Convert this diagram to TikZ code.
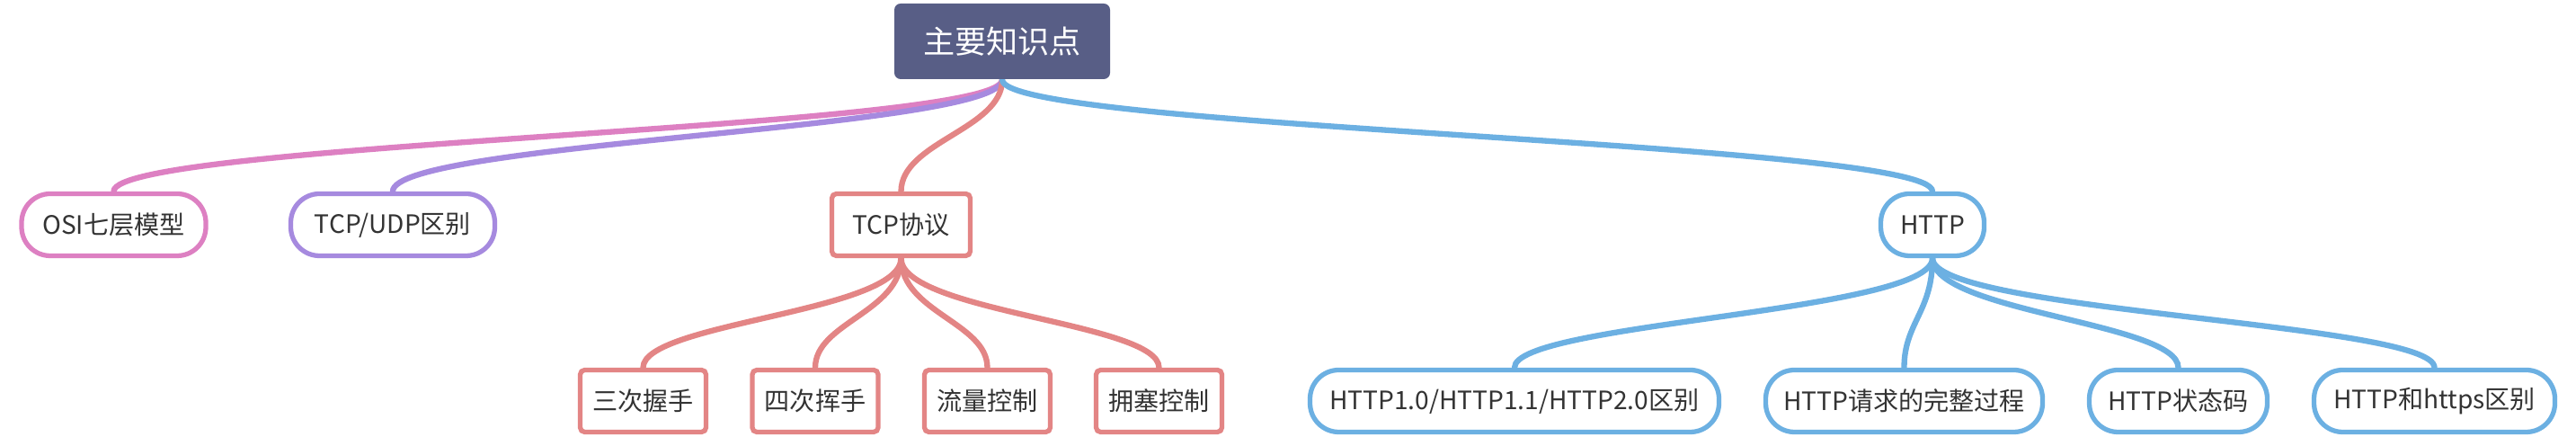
\documentclass[tikz,border=0pt]{standalone}
\usepackage{fontspec}
\newfontfamily\cjk{Noto Sans CJK SC}
\usetikzlibrary{backgrounds}
\definecolor{rootblue}{HTML}{585E86}
\definecolor{osipink}{HTML}{DD80C2}
\definecolor{udppurple}{HTML}{A68ADF}
\definecolor{tcpred}{HTML}{E38585}
\definecolor{httpblue}{HTML}{6CB0E2}
\definecolor{txt}{HTML}{333333}
\tikzset{
  topic/.style={fill=rootblue, rounded corners=0.07cm, text=white, minimum height=0.84cm, font=\cjk\fontsize{10}{12}\selectfont},
  pill/.style={draw=#1, fill=white, line width=1.5pt, rounded corners=0.32cm, minimum height=0.69cm, text=txt, font=\cjk\fontsize{8}{10}\selectfont},
  tcpbox/.style={draw=tcpred, fill=white, line width=1.5pt, rounded corners=0.05cm, minimum height=0.69cm, text=txt, font=\cjk\fontsize{8}{10}\selectfont},
  branch/.style={draw=#1, line width=1.8pt, line cap=round},
}
\begin{document}
\begin{tikzpicture}
    \useasboundingbox (0,0) rectangle (28.66,4.86);
    % root
    \node[topic, minimum width=2.40cm] (root) at (11.15, 4.40) {主要知识点};
    % first level, y 2.36
    \def\ya{2.36}
    \node[pill=osipink, minimum width=2.05cm] (osi) at (1.265, \ya) {OSI七层模型};
    \node[pill=udppurple, minimum width=2.27cm] (tcpudp) at (4.37, \ya) {TCP/UDP区别};
    \node[tcpbox, minimum width=1.54cm] (tcp) at (10.025, \ya) {TCP协议};
    \node[pill=httpblue, minimum width=1.15cm] (http) at (21.50, \ya) {HTTP};
    % second level, y 0.40
    \def\yb{0.40}
    \node[tcpbox, minimum width=1.40cm] (shake) at (7.155, \yb) {三次握手};
    \node[tcpbox, minimum width=1.40cm] (wave) at (9.07, \yb) {四次挥手};
    \node[tcpbox, minimum width=1.40cm] (flow) at (10.985, \yb) {流量控制};
    \node[tcpbox, minimum width=1.40cm] (jam) at (12.895, \yb) {拥塞控制};
    \node[pill=httpblue, minimum width=4.55cm] (versions) at (16.85, \yb) {HTTP1.0/HTTP1.1/HTTP2.0区别};
    \node[pill=httpblue, minimum width=3.08cm] (request) at (21.185, \yb) {HTTP请求的完整过程};
    \node[pill=httpblue, minimum width=1.98cm] (status) at (24.235, \yb) {HTTP状态码};
    \node[pill=httpblue, minimum width=2.68cm] (https) at (27.085, \yb) {HTTP和https区别};
    % branches behind the nodes
    \begin{scope}[on background layer]
      \draw[branch=osipink] (root.south) .. controls +(0,-0.55) and +(0,0.55) .. (osi.north);
      \draw[branch=udppurple] (root.south) .. controls +(0,-0.55) and +(0,0.55) .. (tcpudp.north);
      \draw[branch=tcpred] (root.south) .. controls +(0,-0.55) and +(0,0.55) .. (tcp.north);
      \draw[branch=httpblue] (root.south) .. controls +(0,-0.55) and +(0,0.55) .. (http.north);
      \foreach \n in {shake,wave,flow,jam}
        \draw[branch=tcpred] (tcp.south) .. controls +(0,-0.6) and +(0,0.5) .. (\n.north);
      \foreach \n in {versions,request,status,https}
        \draw[branch=httpblue] (http.south) .. controls +(0,-0.6) and +(0,0.5) .. (\n.north);
    \end{scope}
\end{tikzpicture}
\end{document}
